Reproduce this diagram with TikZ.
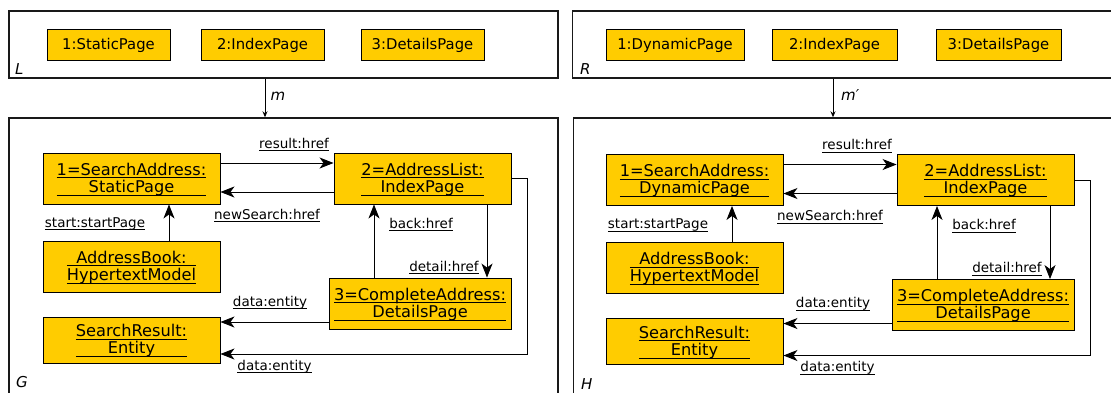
\documentclass[tikz,border=0pt]{standalone}
\usepackage{fontspec}
\setmainfont{DejaVu Sans}[ItalicFont={DejaVu Sans Oblique}]
\usetikzlibrary{arrows.meta}
\definecolor{objfill}{RGB}{255,204,0}
\newdimen\objw
\newcommand\objline[1]{\hbox to\objw{\rlap{\rule[-3pt]{\objw}{0.8pt}}\hss#1\hss}}
\newcommand\objtext[2]{\setbox0\hbox{#1}\setbox2\hbox{#2}\objw=\wd0\relax \ifdim\wd2>\objw \objw=\wd2\relax\fi
  \vbox{\baselineskip=17.3pt \objline{\rule{0pt}{13.8pt}#1}\objline{\rule[-3.5pt]{0pt}{3.5pt}#2}}}
\newcommand\ulabel[1]{\setbox0\hbox{#1}\rlap{\rule[-3pt]{\wd0}{0.7pt}}\box0}
\tikzset{
  obj/.style={draw=black, line width=0.9pt, fill=objfill, minimum width=177pt, minimum height=51pt, inner sep=0pt, font=\fontsize{16.2}{17.3}\selectfont},
  page/.style={draw=black, line width=0.9pt, fill=objfill, minimum height=31pt, inner sep=0pt, text height=14.4pt, text depth=3.5pt, font=\fontsize{14.8}{17}\selectfont},
  frame/.style={draw=black!90, line width=1.4pt, inner sep=0pt},
  lbl/.style={font=\fontsize{13.5}{15}\selectfont, inner sep=0pt, anchor=base},
  conn/.style={line width=0.9pt, -{Stealth[length=14pt,width=11pt,inset=4pt]}},
  maparr/.style={line width=1pt, -{Stealth[length=6pt,width=5pt]}},
  glabel/.style={font=\fontsize{15}{17}\selectfont\itshape, inner sep=0pt, anchor=base west},
  mlabel/.style={font=\fontsize{15}{17}\selectfont\itshape, inner sep=0pt, anchor=base west},
}
\newcommand\graphpart[1]{%
  \node[obj] (sa) at (131.5,178.5) {\objtext{1=SearchAddress:}{#1}};
  \node[obj] (ab) at (131.5,266.5) {\objtext{AddressBook:}{HypertextModel}};
  \node[obj, minimum height=46pt] (sr) at (131.5,340) {\objtext{SearchResult:}{Entity}};
  \node[obj] (al) at (422.5,178.5) {\objtext{2=AddressList:}{IndexPage}};
  \node[obj, minimum width=182pt] (ca) at (420,303.5) {\objtext{3=CompleteAddress:}{DetailsPage}};
  % result:href
  \draw[conn] ([yshift=15.5pt]sa.east) -- ([yshift=15.5pt]al.west);
  \node[lbl] (lres) at (294,148) {\ulabel{result:href}};
  % newSearch:href
  \draw[conn] ([yshift=-13.5pt]al.west) -- ([yshift=-13.5pt]sa.east);
  \node[lbl] (lnew) at (267,219) {\ulabel{newSearch:href}};
  % start:startPage
  \coordinate (st) at ([xshift=37.5pt]ab.north);
  \draw[conn] (st) -- (st |- sa.south);
  \node[lbl] (lstart) at (95,227) {\ulabel{start:startPage}};
  % back:href
  \coordinate (bk) at ([xshift=-46pt]ca.north);
  \draw[conn] (bk) -- (bk |- al.south);
  \node[lbl] (lback) at (421,228) {\ulabel{back:href}};
  % detail:href
  \coordinate (dt) at ([xshift=64.5pt]al.south);
  \draw[conn] (dt) -- (dt |- ca.north);
  \node[lbl] (ldet) at (444,271) {\ulabel{detail:href}};
  % data:entity (upper)
  \coordinate (du) at ([yshift=-18.5pt]ca.west);
  \draw[conn] (du) -- (du -| sr.east);
  \node[lbl] (ldata1) at (270,306) {\ulabel{data:entity}};
  % data:entity (lower loop)
  \coordinate (dl) at ([yshift=-14pt]sr.east);
  \draw[conn] (al.east) -- ++(16,0) |- (dl);
  \node[lbl] (ldata2) at (274.5,370) {\ulabel{data:entity}};
}
\begin{document}
\begin{tikzpicture}[x=1pt,y=-1pt]
\useasboundingbox (0,0) rectangle (1111,392);
\clip (0,0) rectangle (1111,392);
% frames
\node[frame, minimum width=549pt, minimum height=67pt] (Lf) at (283.5,44.5) {};
\node[frame, minimum width=549pt, minimum height=290pt] (Gf) at (283.5,263) {};
\node[frame, minimum width=552.5pt, minimum height=67pt] (Rf) at (848.75,44.5) {};
\node[frame, minimum width=551.5pt, minimum height=290pt] (Hf) at (849.25,263) {};
\node[glabel] (Lt) at (15,74) {L};
\node[glabel] (Gt) at (16,387.7) {G};
\node[glabel] (Rt) at (580,74) {R};
\node[glabel] (Ht) at (581,389) {H};
% top rows
\node[page, minimum width=123pt] (l1) at (108.5,44.5) {1:StaticPage};
\node[page, minimum width=123pt] (l2) at (262.5,44.5) {2:IndexPage};
\node[page, minimum width=123pt] (l3) at (422.5,44.5) {3:DetailsPage};
\node[page, minimum width=138pt] (r1) at (675,44.5) {1:DynamicPage};
\node[page, minimum width=125pt] (r2) at (834.5,44.5) {2:IndexPage};
\node[page, minimum width=125pt] (r3) at (998.5,44.5) {3:DetailsPage};
% mappings
\coordinate (mx) at (265,0);
\draw[maparr] (Lf.south -| mx) -- (Gf.north -| mx);
\node[mlabel] (ml) at (270.5,100.7) {m};
\coordinate (mpx) at (833,0);
\draw[maparr] (Rf.south -| mpx) -- (Hf.north -| mpx);
\node[mlabel] (mpl) at (841,100.7) {m′};
% graphs
\begin{scope}[name prefix=G-]
\graphpart{StaticPage}
\end{scope}
\begin{scope}[shift={(563,1.5)}, name prefix=H-]
\graphpart{DynamicPage}
\end{scope}
\end{tikzpicture}
\end{document}
